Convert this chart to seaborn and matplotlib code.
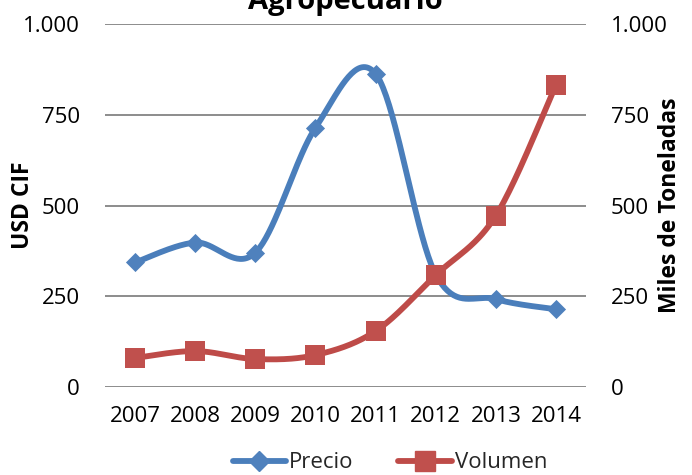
import numpy as np
import pandas as pd
import matplotlib
matplotlib.use("Agg")
import matplotlib.pyplot as plt
from matplotlib.lines import Line2D
import seaborn as sns

years = ["2007", "2008", "2009", "2010", "2011", "2012", "2013", "2014"]
precio = [343, 398, 370, 714, 863, 310, 242, 214]
volumen = [80, 99, 77, 88, 154, 308, 472, 832]
yticks = [0, 250, 500, 750, 1000]
ytick_labels = ["0", "250", "500", "750", "1.000"]

BLUE_LINE = "#4A7EBB"
BLUE_MK = "#4F81BD"
RED_LINE = "#BE4B48"
RED_MK = "#C0504D"


def smooth(xs, ys, sx=60.0, sy=0.364, n=40):
    """Excel-like smoothed line (Catmull-Rom bezier) computed in screen-like space."""
    P = np.column_stack([np.asarray(xs, float) * sx, np.asarray(ys, float) * sy])
    m = len(P)
    out = []
    for i in range(m - 1):
        p0 = P[i - 1] if i > 0 else P[i]
        p1 = P[i]
        p2 = P[i + 1]
        p3 = P[i + 2] if i + 2 < m else P[i + 1]
        c1 = p1 + (p2 - p0) / 6.0
        c2 = p2 - (p3 - p1) / 6.0
        t = np.linspace(0, 1, n, endpoint=(i == m - 2))[:, None]
        seg = ((1 - t) ** 3) * p1 + 3 * ((1 - t) ** 2) * t * c1 + 3 * (1 - t) * t ** 2 * c2 + t ** 3 * p2
        out.append(seg)
    out = np.vstack(out)
    return out[:, 0] / sx, out[:, 1] / sy


sns.set_theme(style="white")
plt.rcParams["font.family"] = ["Open Sans", "DejaVu Sans"]

fig = plt.figure(figsize=(6.92, 4.75), dpi=100)
ax = fig.add_axes([105 / 692, 1 - 387 / 475, 481 / 692, 363 / 475])
ax2 = ax.twinx()

xi = np.arange(len(years))
px, py = smooth(xi, precio)
vx, vy = smooth(xi, volumen)

df_p = pd.DataFrame({"x": px, "y": py})
df_v = pd.DataFrame({"x": vx, "y": vy})
pts = pd.DataFrame({"x": xi, "precio": precio, "volumen": volumen})

sns.lineplot(data=df_p, x="x", y="y", ax=ax, color=BLUE_LINE, linewidth=4.2,
             sort=False, estimator=None, zorder=3)
sns.scatterplot(data=pts, x="x", y="precio", ax=ax, marker="D", s=95,
                color=BLUE_MK, edgecolor=BLUE_MK, linewidth=0, zorder=4)

sns.lineplot(data=df_v, x="x", y="y", ax=ax2, color=RED_LINE, linewidth=4.2,
             sort=False, estimator=None, zorder=3)
sns.scatterplot(data=pts, x="x", y="volumen", ax=ax2, marker="s", s=200,
                color=RED_MK, edgecolor=RED_MK, linewidth=0, zorder=4)

for a in (ax, ax2):
    a.set_xlim(-0.5, len(years) - 0.5)
    a.set_ylim(0, 1000)
    a.set_yticks(yticks)
    a.set_yticklabels(ytick_labels)
    for s in a.spines.values():
        s.set_visible(False)
    a.tick_params(axis="y", length=0, pad=18, labelsize=16, colors="black")

ax.set_xticks(xi)
ax.set_xticklabels(years)
ax.tick_params(axis="x", length=0, pad=14, labelsize=16, colors="black")
ax2.set_xlabel("")
ax.set_xlabel("")

ax.grid(axis="y", color="#8C8C8C", linewidth=1.4)
ax.grid(axis="x", visible=False)
ax2.grid(False)
ax.set_axisbelow(True)

ax.set_ylabel("USD CIF", fontsize=16.5, fontweight="bold", color="black")
ax.yaxis.set_label_coords((23 - 105) / 481, 0.5)
ax.yaxis.label.set_va("center")
ax2.set_ylabel("Miles de Toneladas", fontsize=16.5, fontweight="bold", color="black")
ax2.yaxis.set_label_coords((670 - 105) / 481, 0.5)
ax2.yaxis.label.set_va("center")
ax2.yaxis.label.set_rotation(90)

ax.set_title("Agropecuario", fontsize=21, fontweight="bold", pad=11, color="black")

handles = [
    Line2D([], [], color=BLUE_LINE, linewidth=4.2, marker="D", markersize=9.7,
           markerfacecolor=BLUE_MK, markeredgecolor=BLUE_MK),
    Line2D([], [], color=RED_LINE, linewidth=4.2, marker="s", markersize=14,
           markerfacecolor=RED_MK, markeredgecolor=RED_MK),
]
fig.legend(handles, ["Precio", "Volumen"], loc="center", ncol=2, frameon=False,
           bbox_to_anchor=(390 / 692, 1 - 463 / 475), fontsize=16,
           handlelength=2.4, handletextpad=0.15, columnspacing=2.0, borderpad=0)

fig.savefig("out.png", dpi=100)
